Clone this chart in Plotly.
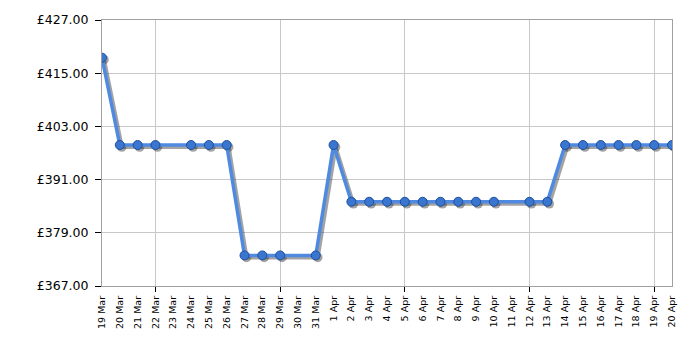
import plotly.graph_objects as go

dates = ["19 Mar", "20 Mar", "21 Mar", "22 Mar", "23 Mar", "24 Mar", "25 Mar", "26 Mar",
         "27 Mar", "28 Mar", "29 Mar", "30 Mar", "31 Mar", "1 Apr", "2 Apr", "3 Apr",
         "4 Apr", "5 Apr", "6 Apr", "7 Apr", "8 Apr", "9 Apr", "10 Apr", "11 Apr",
         "12 Apr", "13 Apr", "14 Apr", "15 Apr", "16 Apr", "17 Apr", "18 Apr", "19 Apr", "20 Apr"]
prices = [418.50, 398.80, 398.80, 398.80, None, 398.80, 398.80, 398.80,
          373.90, 373.90, 373.90, None, 373.90, 398.80, 386.00, 386.00,
          386.00, 386.00, 386.00, 386.00, 386.00, 386.00, 386.00, None,
          386.00, 386.00, 398.80, 398.80, 398.80, 398.80, 398.80, 398.80, 398.80]
week_ticks = ["22 Mar", "29 Mar", "5 Apr", "12 Apr", "19 Apr"]
y_ticks = [367, 379, 391, 403, 415, 427]

x_range = [0, len(dates) - 1]
y_range = [367, 427]

# shadow offsets in data units (approx 2px right, 2px down)
plot_w, plot_h = 570, 266
dx = 2 * (x_range[1] - x_range[0]) / plot_w
dy = 2 * (y_range[1] - y_range[0]) / plot_h

fig = go.Figure()
# empty base trace
fig.add_trace(go.Scatter(x=[], y=[], xaxis="x", yaxis="y", showlegend=False))
# shadow
fig.add_trace(go.Scatter(
    x=dates, y=prices, xaxis="x2", yaxis="y2", mode="lines+markers", connectgaps=True,
    line=dict(color="rgba(50,50,50,0.45)", width=4),
    marker=dict(size=9.5, color="rgba(50,50,50,0.45)", line=dict(width=0)),
    showlegend=False, hoverinfo="skip"))
# main
fig.add_trace(go.Scatter(
    x=dates, y=prices, xaxis="x3", yaxis="y", mode="lines+markers", connectgaps=True,
    line=dict(color="#4f8ae0", width=3.5),
    marker=dict(size=9, color="#3a76cf", line=dict(color="#1d4f9c", width=1)),
    showlegend=False))

grid = "#c8c8c8"
axis_line = "#a0a0a0"
fig.update_layout(
    width=700, height=350,
    margin=dict(l=102, r=28, t=20, b=64),
    paper_bgcolor="white", plot_bgcolor="white",
    font=dict(family="DejaVu Sans", color="#000000"),
    xaxis=dict(type="category", categoryorder="array", categoryarray=dates,
               range=x_range, tickmode="array", tickvals=week_ticks,
               showticklabels=False, ticks="outside", ticklen=5, tickcolor="#000",
               showgrid=True, gridcolor=grid, gridwidth=1,
               showline=True, linecolor=axis_line, linewidth=1, mirror=True,
               zeroline=False, fixedrange=True),
    xaxis2=dict(type="category", categoryorder="array", categoryarray=dates,
                overlaying="x", anchor="y2",
                range=[x_range[0] - dx, x_range[1] - dx], visible=False),
    xaxis3=dict(type="category", categoryorder="array", categoryarray=dates,
                overlaying="x", anchor="y", side="bottom",
                range=x_range, tickmode="array", tickvals=dates, ticktext=dates,
                tickangle=-90, tickfont=dict(size=9.5, family="DejaVu Sans", color="#000"),
                ticklabelstandoff=7,
                ticks="", showgrid=False, showline=False, zeroline=False),
    yaxis=dict(range=y_range, tickmode="array", tickvals=y_ticks,
               ticktext=["£%.2f" % v for v in y_ticks],
               tickfont=dict(size=12.5, family="DejaVu Sans", color="#000"),
               ticklabelstandoff=4,
               ticks="outside", ticklen=6, tickcolor="#000",
               showgrid=True, gridcolor=grid, gridwidth=1,
               showline=True, linecolor=axis_line, linewidth=1, mirror=True,
               zeroline=False),
    yaxis2=dict(overlaying="y", anchor="x2",
                range=[y_range[0] + dy, y_range[1] + dy], visible=False),
)

fig.write_html("out.html")
